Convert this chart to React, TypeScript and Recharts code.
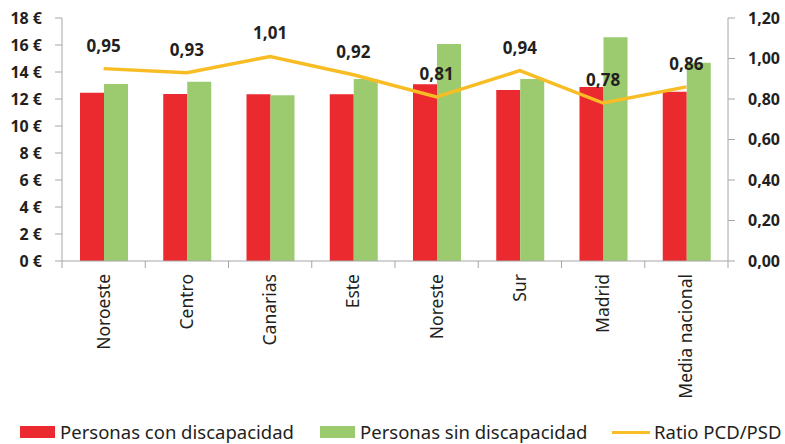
import React from 'react';
import { ComposedChart, Bar, Line, XAxis, YAxis, Legend, LabelList } from 'recharts';

const regions = ['Noroeste', 'Centro', 'Canarias', 'Este', 'Noreste', 'Sur', 'Madrid', 'Media nacional'];
const conDiscapacidad = [12.47, 12.37, 12.35, 12.35, 13.09, 12.67, 12.89, 12.54];
const sinDiscapacidad = [13.11, 13.28, 12.27, 13.48, 16.07, 13.48, 16.57, 14.69];
const ratio = [0.95, 0.93, 1.01, 0.92, 0.81, 0.94, 0.78, 0.86];
const euroTicks = [0, 2, 4, 6, 8, 10, 12, 14, 16, 18];
const ratioTicks = [0, 0.2, 0.4, 0.6, 0.8, 1.0, 1.2];

const data = regions.map((region, i) => ({
  region,
  pcd: conDiscapacidad[i],
  psd: sinDiscapacidad[i],
  ratio: ratio[i],
}));

const RED = '#EA2A2F';
const GREEN = '#9BCA6F';
const YELLOW = '#F8BD24';
const AXIS = '#A6A6A6';
const FONT = '"Noto Sans", sans-serif';
const TEXT = '#231F20';

const fmt = (v: number) => v.toFixed(2).replace('.', ',');

const CategoryTick = (props: any) => {
  const { x, y, payload, index } = props;
  const half = payload.offset || 41.6;
  return (
    <g>
      <line x1={x - half} y1={y - 8} x2={x - half} y2={y - 1} stroke={AXIS} />
      {index === regions.length - 1 && (
        <line x1={x + half} y1={y - 8} x2={x + half} y2={y - 1} stroke={AXIS} />
      )}
      <text
        x={x + 6}
        y={y + 5}
        transform={`rotate(-90, ${x + 6}, ${y + 5})`}
        textAnchor="end"
        fontFamily={FONT}
        fontSize={17.5}
        fill={TEXT}
      >
        {payload.value}
      </text>
    </g>
  );
};

const LegendContent = () => (
  <div style={{ position: 'relative', height: 24, fontFamily: FONT, fontSize: 18.5, color: TEXT }}>
    <div style={{ position: 'absolute', left: 20, top: 6, width: 35, height: 12, background: RED }} />
    <div style={{ position: 'absolute', left: 60, top: 0, lineHeight: '24px' }}>Personas con discapacidad</div>
    <div style={{ position: 'absolute', left: 320, top: 6, width: 35, height: 12, background: GREEN }} />
    <div style={{ position: 'absolute', left: 360, top: 0, lineHeight: '24px' }}>Personas sin discapacidad</div>
    <div style={{ position: 'absolute', left: 612, top: 11, width: 38, height: 3, background: YELLOW }} />
    <div style={{ position: 'absolute', left: 654, top: 0, lineHeight: '24px' }}>Ratio PCD/PSD</div>
  </div>
);

export default function App() {
  return (
    <div style={{ position: 'absolute', left: 0, top: 0, width: 785, height: 444, background: '#fff' }}>
      <ComposedChart
        width={785}
        height={444}
        data={data}
        margin={{ top: 18, right: 0, bottom: 0, left: 0 }}
        barGap={0}
      >
        <XAxis
          dataKey="region"
          xAxisId="cat"
          height={159}
          stroke={AXIS}
          tickLine={false}
          tick={<CategoryTick />}
          interval={0}
        />
        <YAxis
          yAxisId="left"
          width={62}
          domain={[0, 18]}
          ticks={euroTicks}
          tickFormatter={(v: number) => `${v} €`}
          stroke={AXIS}
          tickSize={7}
          tickMargin={13}
          tick={{ fontFamily: FONT, fontSize: 16, fontWeight: 700, fill: TEXT }}
        />
        <YAxis
          yAxisId="right"
          orientation="right"
          width={57}
          domain={[0, 1.2]}
          ticks={ratioTicks}
          tickFormatter={fmt}
          stroke={AXIS}
          tickSize={7}
          tickMargin={13}
          tick={{ fontFamily: FONT, fontSize: 16, fontWeight: 700, fill: TEXT, textAnchor: 'start' }}
        />
        <Legend verticalAlign="bottom" height={24} content={<LegendContent />} />
        <Bar xAxisId="cat" yAxisId="left" dataKey="pcd" name="Personas con discapacidad" fill={RED} barSize={24} isAnimationActive={false} />
        <Bar xAxisId="cat" yAxisId="left" dataKey="psd" name="Personas sin discapacidad" fill={GREEN} barSize={24} isAnimationActive={false} />
        <Line
          xAxisId="cat"
          yAxisId="right"
          dataKey="ratio"
          name="Ratio PCD/PSD"
          stroke={YELLOW}
          strokeWidth={3.5}
          dot={false}
          activeDot={false}
          isAnimationActive={false}
        >
          <LabelList
            dataKey="ratio"
            position="top"
            offset={17}
            formatter={(v: any) => fmt(Number(v))}
            style={{ fontFamily: FONT, fontSize: 17, fontWeight: 700, fill: TEXT }}
          />
        </Line>
      </ComposedChart>
    </div>
  );
}
